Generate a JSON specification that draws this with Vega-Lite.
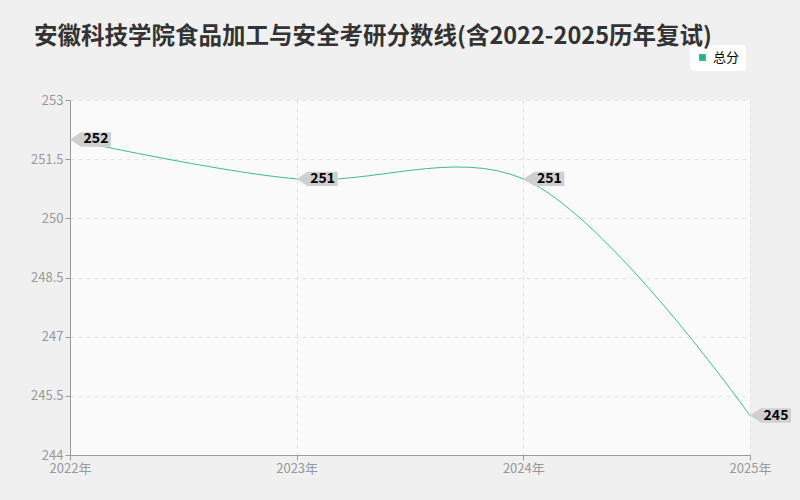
{
  "$schema": "https://vega.github.io/schema/vega-lite/v6.json",
  "width": 680,
  "height": 355,
  "autosize": {"type": "none"},
  "padding": {"left": 70, "top": 100, "right": 50, "bottom": 45},
  "background": "#f0f0f0",
  "title": {
    "text": "安徽科技学院食品加工与安全考研分数线(含2022-2025历年复试)",
    "anchor": "start",
    "frame": "group",
    "dx": -36,
    "offset": -3,
    "fontSize": 23.5,
    "fontWeight": "bold",
    "color": "#333333",
    "font": "Noto Sans CJK SC"
  },
  "config": {
    "view": {"fill": "#fafafa", "stroke": null},
    "font": "Noto Sans CJK SC"
  },
  "data": {
    "values": [
      {"year": 2022, "score": 252, "series": "总分"},
      {"year": 2023, "score": 251, "series": "总分"},
      {"year": 2024, "score": 251, "series": "总分"},
      {"year": 2025, "score": 245, "series": "总分"}
    ]
  },
  "encoding": {
    "x": {
      "field": "year",
      "type": "quantitative",
      "scale": {"domain": [2022, 2025], "nice": false, "zero": false},
      "axis": {
        "title": null,
        "values": [2022, 2023, 2024, 2025],
        "labelExpr": "datum.value + '年'",
        "labelColor": "#999999",
        "labelFontSize": 13,
        "labelPadding": 2,
        "domainColor": "#999999",
        "tickColor": "#999999",
        "tickSize": 5,
        "gridColor": "#e2e2e2",
        "gridDash": [4, 4],
        "labelFlush": false
      }
    },
    "y": {
      "field": "score",
      "type": "quantitative",
      "scale": {"domain": [244, 253], "nice": false, "zero": false},
      "axis": {
        "title": null,
        "values": [244, 245.5, 247, 248.5, 250, 251.5, 253],
        "format": ".1~f",
        "labelColor": "#999999",
        "labelFontSize": 13,
        "labelPadding": 2,
        "domainColor": "#999999",
        "tickColor": "#999999",
        "tickSize": 5,
        "gridColor": "#e2e2e2",
        "gridDash": [4, 4]
      }
    }
  },
  "layer": [
    {
      "mark": {"type": "line", "interpolate": "catmull-rom", "strokeWidth": 1, "clip": false},
      "encoding": {
        "color": {
          "field": "series",
          "type": "nominal",
          "scale": {"range": ["#3cba92"]},
          "legend": {
            "title": null,
            "orient": "none",
            "legendX": 620,
            "legendY": -55,
            "symbolType": "square",
            "symbolSize": 30,
            "symbolFillColor": "#1db384",
            "symbolStrokeColor": "#1db384",
            "labelFontSize": 13,
            "labelColor": "#000000",
            "fillColor": "#ffffff",
            "cornerRadius": 4,
            "padding": 6
          }
        }
      }
    },
    {
      "mark": {
        "type": "point",
        "shape": "M0,0L1.1,-0.72L4.1,-0.72L4.1,0.72L1.1,0.72Z",
        "size": 400,
        "filled": true,
        "fill": "#cfcfcf",
        "opacity": 1,
        "clip": false
      }
    },
    {
      "mark": {
        "type": "text",
        "dx": 26,
        "align": "center",
        "baseline": "middle",
        "fontSize": 14,
        "fontWeight": "bold",
        "color": "#000000",
        "clip": false
      },
      "encoding": {"text": {"field": "score", "type": "quantitative"}}
    }
  ]
}
